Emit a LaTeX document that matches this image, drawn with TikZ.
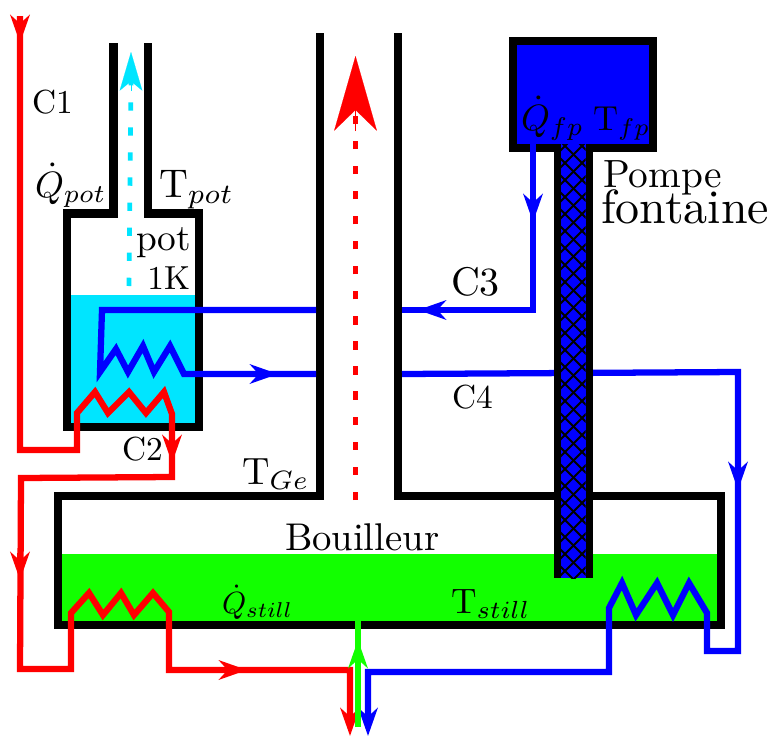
\documentclass[tikz,border=0pt]{standalone}
\usetikzlibrary{arrows.meta}
\definecolor{liqcyan}{RGB}{0,229,255}
\definecolor{liqgreen}{RGB}{18,255,0}
\definecolor{flowred}{RGB}{255,0,0}
\definecolor{flowblue}{RGB}{0,0,255}
\tikzset{
  wall/.style={draw=black,line width=6.2pt,miter limit=10},
  flow/.style={line width=4.7pt,miter limit=10},
  redflow/.style={flow,draw=flowred},
  blueflow/.style={flow,draw=flowblue},
  greenflow/.style={flow,draw=liqgreen},
  head/.style={-{Stealth[length=21pt,width=14.5pt,inset=6.5pt]}},
  vapour/.style={line width=3.5pt,dash pattern=on 6.2pt off 12.6pt},
  lab/.style={anchor=base west,inner sep=0pt,outer sep=0pt,scale=#1},
  labr/.style={anchor=base east,inner sep=0pt,outer sep=0pt,scale=#1},
}
\begin{document}
\begin{tikzpicture}[x=.75pt,y=-.75pt]
\useasboundingbox (0,0) rectangle (771,736);
% liquids
\fill[liqcyan] (71,295) rectangle (195,423);
\fill[liqgreen] (62,554) rectangle (717,621);
% vapour
\draw[vapour,draw=liqcyan] (129,286) -- (131,80);
\draw[draw=liqcyan,-{Stealth[length=29pt,width=17pt,inset=7pt]},line width=.1pt] (131,91) -- (131,52);
\draw[vapour,draw=flowred] (355.5,500) -- (355.5,115);
\draw[draw=flowred,-{Stealth[length=56pt,width=32pt,inset=15.5pt]},line width=.1pt] (355.5,131) -- (355.5,56);
% walls
\draw[wall] (113.5,43) -- (113.5,213.5) -- (67,213.5) -- (67,427) -- (199,427) -- (199,213.5) -- (148,213.5) -- (148,43);
\draw[wall] (320,33) -- (320,496) -- (58,496) -- (58,625) -- (721,625) -- (721,496) -- (398,496) -- (398,33);
% pump head
\draw[wall,fill=flowblue] (513,41) rectangle (653,148);
% blue flows
\draw[blueflow] (533,143) -- (533,310) -- (402,310);
\draw[blueflow,head] (445,310) -- (418,310);
\draw[blueflow] (316,310) -- (102,310) -- (100,372) -- (116,349) -- (128,372) -- (143,346) -- (154,372) -- (170,346) -- (184,374) -- (316,374);
\draw[blueflow,head] (251,374) -- (278,374);
\draw[blueflow] (402,374) -- (738,372) -- (738,651) -- (707,651) -- (707,613) -- (689,583) -- (673,615) -- (657,583) -- (636,615) -- (622,583) -- (609,608) -- (609,672) -- (368,672) -- (368,720);
\draw[blueflow,head] (738,463) -- (738,490);
\draw[blueflow,head] (368,709) -- (368,736);
\draw[blueflow,head] (533,195) -- (533,222);
% pump stem
\fill[black] (553.5,148) rectangle (593,578);
\fill[flowblue] (561,144) rectangle (585.5,578);
\begin{scope}
  \clip (561,144) rectangle (585.5,578);
  \foreach \k in {100,117,...,600}{
    \draw[black,line width=1.4pt] (553,\k) -- (594,\k+41);
    \draw[black,line width=1.4pt] (594,\k) -- (553,\k+41);
  }
\end{scope}
% red flows
\draw[redflow] (20,16) -- (20,450) -- (77,450) -- (77,413) -- (95,392) -- (108,413) -- (129,392) -- (146,413) -- (164,392) -- (172,414) -- (172,477) -- (21,478) -- (20,669) -- (71,669) -- (71,613) -- (89,593) -- (103,615) -- (121,593) -- (134,615) -- (153,593) -- (169,612) -- (169,670) -- (350,670) -- (350,720);
\draw[redflow,head] (20,16) -- (20,43);
\draw[redflow,head] (172,436) -- (172,463);
\draw[redflow,head] (20,553) -- (20,580);
\draw[redflow,head] (220,670) -- (247,670);
\draw[redflow,head] (350,709) -- (350,736);
% green flow
\draw[greenflow] (358,727) -- (358,613);
\draw[greenflow,head] (358,667) -- (358,640);
% labels
\node[lab=2.5] (c1) at (32,113) {C1};
\node[lab=2.75] (qpot) at (35,197) {$\dot Q_{pot}$};
\node[lab=3] (tpot) at (159,197) {T$_{pot}$};
\node[labr=2.8] (pot) at (191,250) {pot};
\node[labr=2.5] (onek) at (190,289) {1K};
\node[lab=2.5] (c2) at (122,460) {C2};
\node[lab=2.85] (tge) at (242,484) {T$_{Ge}$};
\node[lab=2.9] (bouil) at (285,550) {Bouilleur};
\node[lab=3] (c3) at (451,295) {C3};
\node[lab=2.5] (c4) at (452,408) {C4};
\node[lab=2.3] (qstill) at (222,613) {$\dot Q_{still}$};
\node[lab=2.65] (tstill) at (451,613) {T$_{still}$};
\node[lab=2.75] (qfp) at (521,130) {$\dot Q_{fp}$};
\node[lab=2.6] (tfp) at (593,130) {T$_{fp}$};
\node[lab=2.95] (pompe) at (603,187) {Pompe};
\node[lab=3.6] (font) at (601,223) {fontaine};
\end{tikzpicture}
\end{document}
